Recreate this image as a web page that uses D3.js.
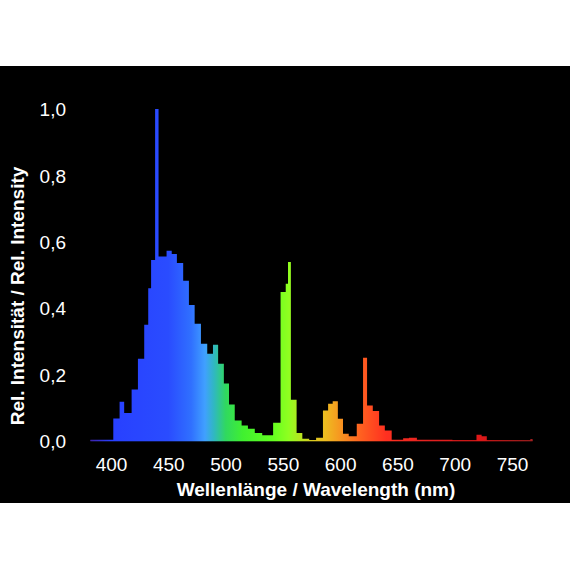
<!DOCTYPE html>
<html>
<head>
<meta charset="utf-8">
<script src="https://cdn.jsdelivr.net/npm/d3@7"></script>
<style>
  body { margin: 0; background: #fff; }
  svg { display: block; }
  .tick_text { fill: #fff; font-family: "Liberation Sans", Arial, sans-serif; font-size: 19px; }
  .title_text { fill: #fff; font-family: "Liberation Sans", Arial, sans-serif; font-size: 19px; font-weight: bold; }
</style>
</head>
<body>
<svg id="main_svg_container" width="570" height="570"></svg>
<script>
// spectrum: left edge of each step (nm) and its relative intensity
const binStart = [382, 402, 407.5, 411.5, 418, 423.5, 429, 432.5, 435, 438.5,
  441.5, 448.5, 453, 457.5, 463, 468, 473, 478.5, 484, 489,
  493.5, 498.5, 503, 508, 514, 519.5, 525.5, 532, 541.5, 548,
  552.5, 554.5, 557, 562, 567, 573, 579, 585, 589.5, 593.5,
  598, 602.5, 607.5, 614.5, 620, 623.5, 628.5, 634, 639, 645,
  655, 660, 667, 698, 719, 723.5, 728, 766];
const binValue = [0.004, 0.068, 0.118, 0.084, 0.155, 0.248, 0.35, 0.46, 0.545, 1.0,
  0.556, 0.573, 0.563, 0.536, 0.483, 0.41, 0.353, 0.293, 0.263, 0.29,
  0.233, 0.173, 0.11, 0.062, 0.047, 0.037, 0.024, 0.017, 0.055, 0.449,
  0.474, 0.539, 0.124, 0.024, 0.007, 0.003, 0.01, 0.092, 0.112, 0.12,
  0.067, 0.022, 0.014, 0.052, 0.251, 0.107, 0.09, 0.047, 0.032, 0.004,
  0.008, 0.01, 0.004, 0.002, 0.019, 0.014, 0.002, 0.006];
const specEnd = 768;

const xTicks = [400, 450, 500, 550, 600, 650, 700, 750];
const yTicks = [0, 0.2, 0.4, 0.6, 0.8, 1.0];

// wavelength -> colour stops
const colorNm = [380, 400, 450, 470, 482, 490, 500, 515, 540, 555, 575, 587, 602, 618, 640, 680, 720, 770];
const colorHex = ["#4020a0", "#2840ff", "#2a4cff", "#3070ff", "#40a0ff", "#30b8c0", "#30d860", "#40f030",
  "#60ff20", "#90ff20", "#d8cc20", "#eebc20", "#f89020", "#ff6020", "#ff3020", "#e02020", "#e01818", "#a02020"];

const svg = d3.select("#main_svg_container");

svg.append("rect")
    .attr("x", 0)
    .attr("y", 66)
    .attr("width", 570)
    .attr("height", 437)
    .attr("fill", "#000");

const x = d3.scaleLinear().domain([400, 750]).range([111, 512]);
const y = d3.scaleLinear().domain([0, 1]).range([441, 109]);

const commaFmt = d3.formatLocale({decimal: ",", thousands: ".", grouping: [3], currency: ["", ""]}).format(".1f");

// gradient along the wavelength axis
const grad = svg.append("defs").append("linearGradient")
    .attr("id", "spectrum_grad")
    .attr("gradientUnits", "userSpaceOnUse")
    .attr("x1", x(colorNm[0]))
    .attr("x2", x(colorNm[colorNm.length - 1]))
    .attr("y1", 0)
    .attr("y2", 0);

const span = colorNm[colorNm.length - 1] - colorNm[0];
grad.selectAll("stop")
    .data(colorNm)
    .join("stop")
    .attr("offset", d => (d - colorNm[0]) / span)
    .attr("stop-color", (d, i) => colorHex[i]);

const points = binStart.map((d, i) => [d, binValue[i]]);
points.push([specEnd, binValue[binValue.length - 1]]);

const area = d3.area()
    .x(d => x(d[0]))
    .y0(y(0))
    .y1(d => y(d[1]))
    .curve(d3.curveStepAfter);

svg.append("path")
    .datum(points)
    .attr("d", area)
    .attr("fill", "url(#spectrum_grad)");

// thin base line under the spectrum
svg.append("rect")
    .attr("x", x(binStart[0]))
    .attr("y", y(0) - 1)
    .attr("width", x(specEnd) - x(binStart[0]))
    .attr("height", 1.5)
    .attr("fill", "url(#spectrum_grad)")
    .attr("opacity", 0.6);

// axes: labels only, no lines
const xAxis = svg.append("g")
    .attr("transform", "translate(0," + 471 + ")")
    .call(d3.axisBottom(x).tickValues(xTicks).tickSize(0).tickPadding(0));
xAxis.select(".domain").remove();
xAxis.selectAll("text").attr("class", "tick_text").attr("dy", 0).attr("fill", null);

const yAxis = svg.append("g")
    .attr("transform", "translate(" + 66 + ",0)")
    .call(d3.axisLeft(y).tickValues(yTicks).tickFormat(commaFmt).tickSize(0).tickPadding(0));
yAxis.select(".domain").remove();
yAxis.selectAll("text").attr("class", "tick_text").attr("dy", "0.35em").attr("fill", null);

svg.append("text")
    .attr("class", "title_text")
    .attr("x", 316)
    .attr("y", 496)
    .attr("text-anchor", "middle")
    .text("Wellenlänge / Wavelength (nm)");

svg.append("text")
    .attr("class", "title_text")
    .attr("transform", "translate(24,296) rotate(-90)")
    .attr("text-anchor", "middle")
    .text("Rel. Intensität / Rel. Intensity");
</script>
</body>
</html>
